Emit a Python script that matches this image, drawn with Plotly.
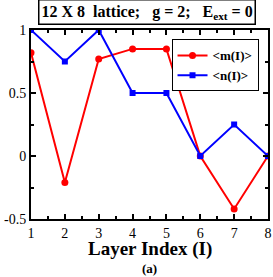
import plotly.graph_objects as go

layers = [1, 2, 3, 4, 5, 6, 7, 8]
m_vals = [0.82, -0.21, 0.77, 0.85, 0.85, 0.0, -0.42, 0.0]
n_vals = [1.0, 0.75, 1.0, 0.5, 0.5, 0.0, 0.25, 0.0]
y_ticks = [-0.5, 0, 0.5, 1]
y_tick_labels = ["-0.5", "0", "0.5", "1"]

FONT = "Liberation Serif"

fig = go.Figure()
fig.add_trace(go.Scatter(x=layers, y=m_vals, mode="lines+markers", name="<b>&lt;m(I)&gt;</b>",
                         line=dict(color="#ff0000", width=2),
                         marker=dict(color="#ff0000", size=7, symbol="circle")))
fig.add_trace(go.Scatter(x=layers, y=n_vals, mode="lines+markers", name="<b>&lt;n(I)&gt;</b>",
                         line=dict(color="#0000ff", width=2),
                         marker=dict(color="#0000ff", size=6, symbol="square")))

axis_common = dict(showline=True, linecolor="black", linewidth=2, mirror="allticks",
                   ticks="inside", ticklen=5, tickwidth=1.5, tickcolor="black",
                   showgrid=False, zeroline=False, automargin=False,
                   tickfont=dict(family=FONT, size=14, color="black"))

fig.update_xaxes(range=[1, 8], tickvals=layers, ticklabelstandoff=0, **axis_common,
                 minor=dict(ticks="inside", ticklen=3, tickcolor="black", dtick=0.5, tick0=1, showgrid=False))
fig.update_yaxes(range=[-0.5, 1], tickvals=y_ticks, ticktext=y_tick_labels, ticklabelstandoff=0,
                 **axis_common,
                 minor=dict(ticks="inside", ticklen=3, tickcolor="black", dtick=0.25, tick0=-0.5, showgrid=False))

fig.add_annotation(text="<b>12 X 8  lattice;   g = 2;   E<sub>ext</sub> = 0</b>",
                   xref="paper", yref="paper", x=0.49, y=1.0, yanchor="bottom", yshift=5,
                   showarrow=False, font=dict(family=FONT, size=16, color="black"),
                   bordercolor="black", borderwidth=1.5, borderpad=2, bgcolor="white")
fig.add_annotation(text="<b>Layer Index (I)</b>", xref="paper", yref="paper", x=0.5, y=0,
                   yanchor="top", yshift=-18, showarrow=False, borderpad=0,
                   font=dict(family=FONT, size=19, color="black"))
fig.add_annotation(text="<b>(a)</b>", xref="paper", yref="paper", x=0.5, y=0,
                   yanchor="top", yshift=-41, showarrow=False, borderpad=0,
                   font=dict(family=FONT, size=13, color="black"))

fig.update_layout(width=273, height=277, margin=dict(l=31, r=5, t=30, b=58, autoexpand=False),
                  plot_bgcolor="white", paper_bgcolor="white",
                  legend=dict(x=0.96, y=0.95, xanchor="right", yanchor="top",
                              bordercolor="black", borderwidth=1, bgcolor="white",
                              font=dict(family=FONT, size=13, color="black"),
                              tracegroupgap=0, itemwidth=30),
                  showlegend=True)

fig.write_html("out.html", config={"displayModeBar": False},
               post_script="document.body.style.margin='0';")
